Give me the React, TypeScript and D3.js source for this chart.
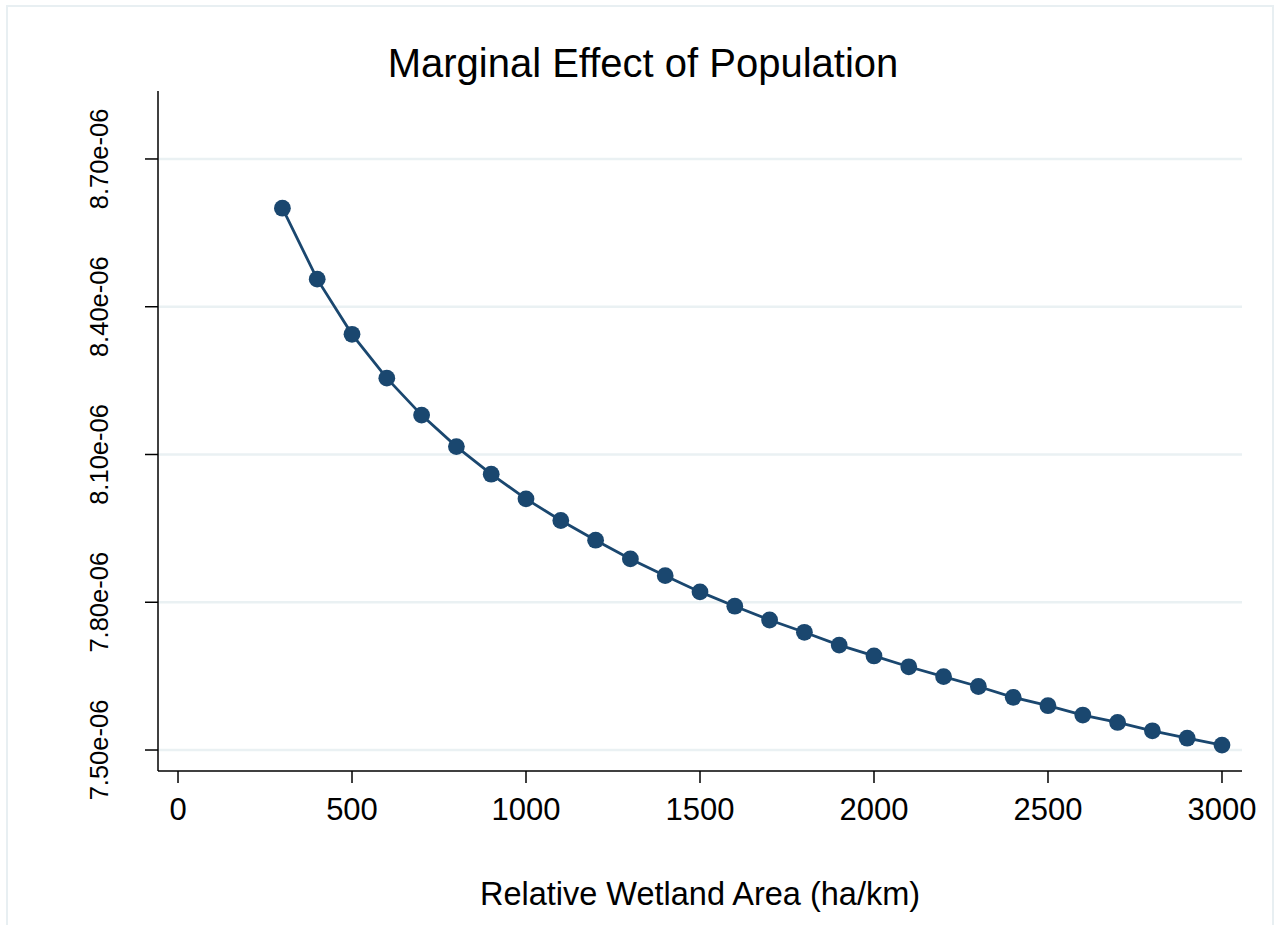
import React from 'react';
import * as d3 from 'd3';

// wetland area (ha/km)
const areas = [300, 400, 500, 600, 700, 800, 900, 1000, 1100, 1200, 1300, 1400, 1500, 1600, 1700,
  1800, 1900, 2000, 2100, 2200, 2300, 2400, 2500, 2600, 2700, 2800, 2900, 3000];

// marginal effect of population
const effects = [8.600e-6, 8.456e-6, 8.344e-6, 8.255e-6, 8.180e-6, 8.116e-6, 8.060e-6, 8.010e-6,
  7.966e-6, 7.926e-6, 7.888e-6, 7.854e-6, 7.821e-6, 7.792e-6, 7.764e-6, 7.739e-6, 7.713e-6,
  7.691e-6, 7.669e-6, 7.649e-6, 7.629e-6, 7.607e-6, 7.590e-6, 7.571e-6, 7.556e-6, 7.539e-6,
  7.524e-6, 7.510e-6];

const xTicks = [0, 500, 1000, 1500, 2000, 2500, 3000];
const yTicks = [7.5e-6, 7.8e-6, 8.1e-6, 8.4e-6, 8.7e-6];
const yTickLabels = ['7.50e-06', '7.80e-06', '8.10e-06', '8.40e-06', '8.70e-06'];

const title = 'Marginal Effect of Population';
const xTitle = 'Relative Wetland Area (ha/km)';

const W = 1276;
const H = 925;
const plot = { left: 158, right: 1242, top: 91, bottom: 771 };
const navy = '#1a476f';
const font = '"Liberation Sans", Arial, sans-serif';

export default function App() {
  const x = d3.scaleLinear().domain([-57.5, 3057.5]).range([plot.left, plot.right]);
  const y = d3.scaleLinear().domain([7.4574e-6, 8.838e-6]).range([plot.bottom, plot.top]);

  const points = areas.map((a, i) => [a, effects[i]] as [number, number]);
  const line = d3.line<[number, number]>()
    .x(d => x(d[0]))
    .y(d => y(d[1]));

  return (
    <svg width={W} height={H} style={{ position: 'absolute', left: 0, top: 0, display: 'block' }}
      fontFamily={font}>
      <rect x={0} y={0} width={W} height={H} fill="#fff" />
      <rect x={7} y={6} width={1266} height={940} fill="#fff" stroke="#e8eff2" strokeWidth={2} />

      <text x={643} y={77} textAnchor="middle" fontSize={40}>{title}</text>

      {/* grid */}
      {yTicks.map((t, i) => (
        <line key={'g' + i} x1={plot.left} x2={plot.right} y1={y(t)} y2={y(t)}
          stroke="#eaf1f3" strokeWidth={2.5} />
      ))}

      {/* y axis */}
      <line x1={plot.left} x2={plot.left} y1={plot.top} y2={plot.bottom} stroke="#000" strokeWidth={1.5} />
      {yTicks.map((t, i) => (
        <g key={'y' + i}>
          <line x1={plot.left - 13} x2={plot.left} y1={y(t)} y2={y(t)} stroke="#000" strokeWidth={1.5} />
          <text transform={`translate(108,${y(t)}) rotate(-90)`} textAnchor="middle" fontSize={25.5}>
            {yTickLabels[i]}
          </text>
        </g>
      ))}

      {/* x axis */}
      <line x1={plot.left} x2={plot.right} y1={plot.bottom} y2={plot.bottom} stroke="#000" strokeWidth={1.5} />
      {xTicks.map(t => (
        <g key={'x' + t}>
          <line x1={x(t)} x2={x(t)} y1={plot.bottom} y2={plot.bottom + 12} stroke="#000" strokeWidth={1.5} />
          <text x={x(t)} y={820} textAnchor="middle" fontSize={31}>{t}</text>
        </g>
      ))}
      <text x={(plot.left + plot.right) / 2} y={905} textAnchor="middle" fontSize={32.5}>{xTitle}</text>

      {/* series */}
      <path d={line(points) || ''} fill="none" stroke={navy} strokeWidth={2.8} />
      {points.map((p, i) => (
        <circle key={'p' + i} cx={x(p[0])} cy={y(p[1])} r={8.4} fill={navy} />
      ))}
    </svg>
  );
}
